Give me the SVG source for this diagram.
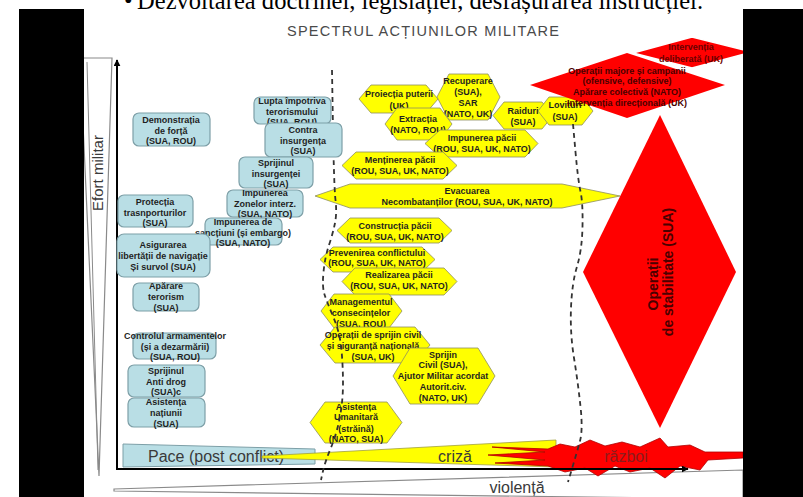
<svg xmlns="http://www.w3.org/2000/svg" width="803" height="497" viewBox="0 0 803 497">
<style>
  .lb { fill:#b9dee5; stroke:#7d9fa7; stroke-width:1.2; }
  .hx { fill:#ffff00; stroke:#8e8e60; stroke-width:0.8; }
  .rd { fill:#ff0000; }
  .t { font-family:"Liberation Sans", Arial, sans-serif; font-weight:bold; font-size:9px; fill:#1f1f1f; text-anchor:middle; }
  .rt { font-family:"Liberation Sans", Arial, sans-serif; font-weight:bold; font-size:9px; fill:#4a0000; text-anchor:middle; }
  .big { font-family:"Liberation Sans", Arial, sans-serif; font-size:16px; fill:#3a3a3a; }
  .dash { fill:none; stroke:#333; stroke-width:1.8; stroke-dasharray:5 4; }
  .wedge { fill:#fff; stroke:#8a8a8a; stroke-width:1.2; }
</style>
<defs>
  <marker id="ah" viewBox="0 0 10 10" refX="9" refY="5" markerWidth="7" markerHeight="7" markerUnits="userSpaceOnUse" orient="auto">
    <path d="M0,0 L10,5 L0,10 z" fill="#000"/>
  </marker>
</defs>

<rect width="803" height="497" fill="#fff"/>

<!-- side wedges -->
<g id="efort">
  <polygon class="wedge" points="80,58 112,58 99,476"/>
  <line x1="87" y1="62" x2="98" y2="470" stroke="#8a8a8a" stroke-width="1"/>
  <text class="big" style="font-size:15px" text-anchor="middle" transform="translate(103,173) rotate(-90)">Efort militar</text>
</g>
<g id="violenta">
  <polygon class="wedge" points="114,489 743,470 743,499 114,491"/>
  <text class="big" x="517" y="493" text-anchor="middle">violență</text>
</g>

<!-- phases along the bottom -->
<g id="pace">
  <polygon points="123,444 315,449 315,464 123,467" fill="#b9dee5" stroke="#7d9fa7" stroke-width="1"/>
  <text class="big" x="148" y="462">Pace (post conflict)</text>
</g>
<g id="criza">
  <polygon points="262,456 556,440 556,467 262,458" fill="#ffff00" stroke="#a0a040" stroke-width="0.8"/>
  <text class="big" x="455" y="462" text-anchor="middle">criză</text>
</g>
<g id="razboi">
  <polygon class="rd" stroke="#b00000" stroke-width="0.8" points="560,444 575,447 590,440 605,446 622,442 640,447 660,438 668,447 690,445 705,452 743,452 743,458 708,460 700,470 680,466 665,478 650,468 630,472 615,466 598,476 585,468 565,472 548,466 495,463 545,460 488,455 545,452 492,447 548,449"/>
  <text class="big" x="626" y="462" text-anchor="middle" style="fill:#8c1c1c">război</text>
</g>

<!-- axes -->
<g id="axes" fill="none" stroke="#000" stroke-width="2">
  <line x1="117" y1="470" x2="117" y2="60" marker-end="url(#ah)"/>
  <line x1="116" y1="469" x2="688" y2="469" marker-end="url(#ah)"/>
</g>

<!-- title -->
<text x="423" y="36" text-anchor="middle" font-family="'Liberation Sans', Arial, sans-serif" font-size="14.5" fill="#4a4a4a" textLength="272">SPECTRUL ACȚIUNILOR MILITARE</text>

<!-- yellow operations -->
<g id="proiectia"><polygon class="hx" points="359,99 371,85 426,85 438,99 426,113 371,113"/>
  <text class="t"><tspan x="399" y="97">Proiecția puterii</tspan><tspan x="399" y="109">(UK)</tspan></text></g>
<g id="recuperare"><polygon class="hx" points="437,97 449,74 488,74 500,97 488,120 449,120"/>
  <text class="t"><tspan x="468" y="84">Recuperare</tspan><tspan x="468" y="95">(SUA),</tspan><tspan x="468" y="106">SAR</tspan><tspan x="468" y="117">(NATO, UK)</tspan></text></g>
<g id="extractia"><polygon class="hx" points="385,124 397,108 440,108 452,124 440,140 397,140"/>
  <text class="t"><tspan x="418" y="122">Extracția</tspan><tspan x="418" y="133">(NATO, ROU)</tspan></text></g>
<g id="raiduri"><polygon class="hx" points="493,115.5 504,102 542,102 553,115.5 542,129 504,129"/>
  <text class="t"><tspan x="523" y="114">Raiduri</tspan><tspan x="523" y="125">(SUA)</tspan></text></g>
<g id="lovituri"><polygon class="hx" points="538,111 549,97 582,97 593,111 582,125 549,125"/>
  <text class="t"><tspan x="565" y="108">Lovituri</tspan><tspan x="565" y="120">(SUA)</tspan></text></g>
<g id="impunerea-pacii"><polygon class="hx" points="425,143.5 440,130 525,130 538,143.5 525,157 440,157"/>
  <text class="t"><tspan x="482" y="141">Impunerea păcii</tspan><tspan x="482" y="152">(ROU, SUA, UK, NATO)</tspan></text></g>
<g id="mentinerea"><polygon class="hx" points="342,165.5 356,152 443,152 457,165.5 443,179 356,179"/>
  <text class="t"><tspan x="400" y="163">Menținerea păcii</tspan><tspan x="400" y="174">(ROU, SUA, UK, NATO)</tspan></text></g>
<g id="evacuarea"><polygon class="hx" points="315,196 350,184 562,184 620,196 562,208 350,208"/>
  <text class="t"><tspan x="467" y="194">Evacuarea</tspan><tspan x="467" y="205">Necombatanților (ROU, SUA, UK, NATO)</tspan></text></g>
<g id="constructia"><polygon class="hx" points="337,230.5 350,218 439,218 452,230.5 439,243 350,243"/>
  <text class="t"><tspan x="395" y="229">Construcția păcii</tspan><tspan x="395" y="240">(ROU, SUA, UK, NATO)</tspan></text></g>
<g id="prevenirea"><polygon class="hx" points="320,259.5 333,247 422,247 435,259.5 422,272 333,272"/>
  <text class="t"><tspan x="377" y="256">Prevenirea conflictului</tspan><tspan x="377" y="266">(ROU, SUA, UK, NATO)</tspan></text></g>
<g id="realizarea"><polygon class="hx" points="342,281.5 355,268 444,268 457,281.5 444,295 355,295"/>
  <text class="t"><tspan x="399" y="278">Realizarea  păcii</tspan><tspan x="399" y="289">(ROU, SUA, UK, NATO)</tspan></text></g>
<g id="managementul"><polygon class="hx" points="321,311 334,294 389,294 402,311 389,328 334,328"/>
  <text class="t"><tspan x="361" y="305">Managementul</tspan><tspan x="361" y="316">consecințelor</tspan><tspan x="361" y="327">(SUA, ROU)</tspan></text></g>
<g id="sprijin-civil-national"><polygon class="hx" points="320,345 335,327 415,327 430,345 415,363 335,363"/>
  <text class="t"><tspan x="373" y="338">Operații de sprijin civil</tspan><tspan x="373" y="349">și siguranță națională</tspan><tspan x="373" y="360">(SUA, UK)</tspan></text></g>
<g id="sprijin-civil"><polygon class="hx" points="393,376 410,348 478,348 495,376 478,404 410,404"/>
  <text class="t"><tspan x="443" y="358">Sprijin</tspan><tspan x="443" y="368">Civil (SUA),</tspan><tspan x="443" y="379">Ajutor Militar acordat</tspan><tspan x="443" y="390">Autorit.civ.</tspan><tspan x="443" y="401">(NATO, UK)</tspan></text></g>
<g id="asistenta-umanitara"><polygon class="hx" points="310,422.5 325,402 387,402 402,422.5 387,443 325,443"/>
  <text class="t"><tspan x="356" y="410">Asistența</tspan><tspan x="356" y="420">Umanitară</tspan><tspan x="356" y="432">(străină)</tspan><tspan x="356" y="442">(NATO, SUA)</tspan></text></g>

<!-- red operations -->
<g id="operatii-majore"><polygon class="rd" points="530,85 627,53 725,85 627,118"/>
  <text class="rt"><tspan x="627" y="74">Operații majore și campanii</tspan><tspan x="627" y="84">(ofensive, defensive)</tspan><tspan x="627" y="95">Apărare colectivă (NATO)</tspan><tspan x="627" y="106">Intervenția direcțională (UK)</tspan></text></g>
<g id="interventia"><polygon class="rd" stroke="#fff" stroke-width="1.5" points="633,53 692,37 752,52 692,68"/>
  <text class="rt" style="fill:#6a0000"><tspan x="691" y="50">Intervenția</tspan><tspan x="691" y="62">deliberată (UK)</tspan></text></g>
<g id="stabilitate"><polygon class="rd" points="660,115 736,272 660,428 583,272"/>
  <text class="rt" style="font-size:14px" transform="translate(660,272) rotate(-90)"><tspan x="-12" y="-2">Operații</tspan><tspan x="0" y="13">de stabilitate (SUA)</tspan></text></g>

<!-- boundaries between peace, crisis and war -->
<g id="connectors">
  <path class="dash" d="M332,70 L333,128.5 Q334,187 335.5,200 Q337,213 335,223 Q333,233 329,245 Q325,257 323.5,272 Q322,287 324.5,294.5 Q327,302 333.5,317.5 Q340,333 341.5,350 Q343,367 343,383.5 Q343,400 340,416.5 Q337,433 331,447.5 Q325,462 323,471 L321,480"/>
  <path class="dash" d="M573,124 L575.5,152 Q578,180 580.5,191.5 Q583,203 582.5,226.5 Q582,250 577,266.5 Q572,283 571,308 Q570,333 574,358 Q578,383 580.5,406.5 Q583,430 580,441 Q577,452 572.5,467 L568,482"/>
</g>

<!-- light blue operations -->
<g id="demonstratia"><rect class="lb" x="133" y="113" width="77" height="33" rx="6"/>
  <text class="t"><tspan x="171" y="123">Demonstrația</tspan><tspan x="171" y="134">de forță</tspan><tspan x="171" y="144">(SUA, ROU)</tspan></text></g>
<g id="lupta"><rect class="lb" x="254" y="97" width="77" height="27" rx="6"/>
  <text class="t"><tspan x="292" y="104">Lupta împotriva</tspan><tspan x="292" y="115">terorismului</tspan><tspan x="292" y="125">(SUA, ROU)</tspan></text></g>
<g id="contra"><rect class="lb" x="265" y="123" width="77" height="34" rx="6"/>
  <text class="t"><tspan x="303" y="133">Contra</tspan><tspan x="303" y="144">insurgența</tspan><tspan x="303" y="154">(SUA)</tspan></text></g>
<g id="sprijinul-insurgentei"><rect class="lb" x="239" y="157" width="74" height="31" rx="6"/>
  <text class="t"><tspan x="276" y="166">Sprijinul</tspan><tspan x="276" y="177">insurgenței</tspan><tspan x="276" y="187">(SUA)</tspan></text></g>
<g id="zone-interzise"><rect class="lb" x="227" y="190" width="76" height="27" rx="6"/>
  <text class="t"><tspan x="265" y="196">Impunerea</tspan><tspan x="265" y="207">Zonelor interz.</tspan><tspan x="265" y="217">(SUA, NATO)</tspan></text></g>
<g id="sanctiuni"><rect class="lb" x="205" y="218" width="77" height="27" rx="6"/>
  <text class="t"><tspan x="243" y="225">Impunerea de</tspan><tspan x="243" y="236">sancțiuni  (și embargo)</tspan><tspan x="243" y="246">(SUA, NATO)</tspan></text></g>
<g id="protectia"><rect class="lb" x="118" y="195" width="75" height="32" rx="6"/>
  <text class="t"><tspan x="155" y="205">Protecția</tspan><tspan x="155" y="216">trasnporturilor</tspan><tspan x="155" y="226">(SUA)</tspan></text></g>
<g id="asigurarea"><rect class="lb" x="117" y="234" width="93" height="43" rx="7"/>
  <text class="t"><tspan x="163" y="248">Asigurarea</tspan><tspan x="163" y="259">libertății de navigație</tspan><tspan x="163" y="270">Și survol (SUA)</tspan></text></g>
<g id="aparare-terorism"><rect class="lb" x="133" y="283" width="66" height="28" rx="6"/>
  <text class="t"><tspan x="166" y="289">Apărare</tspan><tspan x="166" y="300">terorism</tspan><tspan x="166" y="311">(SUA)</tspan></text></g>
<g id="controlul"><rect class="lb" x="133" y="333" width="83" height="26" rx="6"/>
  <text class="t"><tspan x="175" y="339">Controlul armamentelor</tspan><tspan x="175" y="350">(și a dezarmării)</tspan><tspan x="175" y="360">(SUA, ROU)</tspan></text></g>
<g id="anti-drog"><rect class="lb" x="128" y="365" width="77" height="32" rx="6"/>
  <text class="t"><tspan x="166" y="374">Sprijinul</tspan><tspan x="166" y="385">Anti drog</tspan><tspan x="166" y="395">(SUA)c</tspan></text></g>
<g id="asistenta-natiunii"><rect class="lb" x="128" y="398" width="77" height="29" rx="6"/>
  <text class="t"><tspan x="166" y="404.5">Asistența</tspan><tspan x="166" y="415.5">națiunii</tspan><tspan x="166" y="426.5">(SUA)</tspan></text></g>

<!-- frame -->
<rect x="19" y="9" width="65" height="488" fill="#000"/>
<rect x="743" y="9" width="60" height="488" fill="#000"/>
<text font-family="'Liberation Serif', 'Times New Roman', serif" font-size="24.5" fill="#000"><tspan x="124" y="9">•</tspan><tspan x="137" y="9" textLength="566">Dezvoltarea doctrinei, legislației, desfășurarea instrucției.</tspan></text>
</svg>
